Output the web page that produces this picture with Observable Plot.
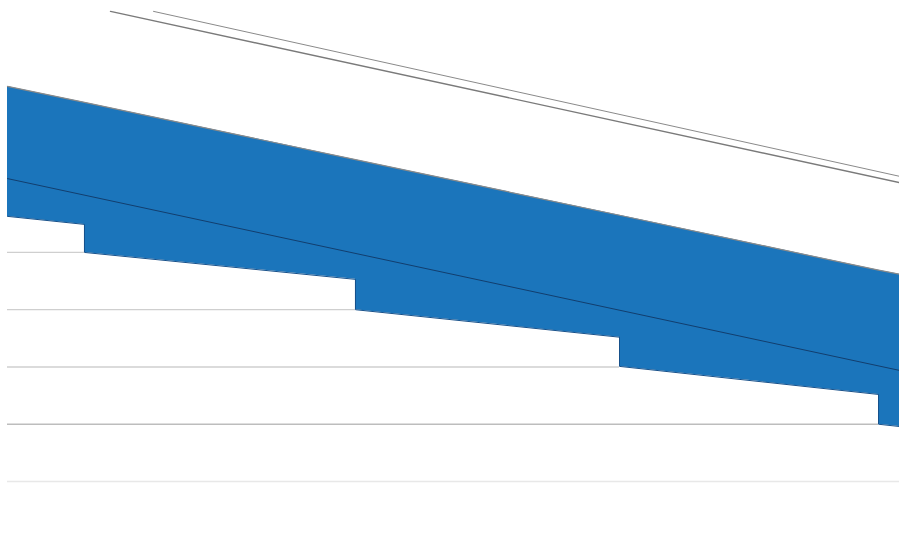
<!DOCTYPE html>
<html>
<head>
<meta charset="utf-8">
<script src="https://cdn.jsdelivr.net/npm/d3@7"></script>
<script src="https://cdn.jsdelivr.net/npm/@observablehq/plot@0.6"></script>
<style>
  html, body { margin: 0; padding: 0; background: #fff; overflow: hidden; }
  #chart svg { display: block; }
</style>
</head>
<body>
<div id="chart"></div>
<script>
// Band: x positions (with repeated x at the steps), lower step edge and upper edge
const bandX     = [0,     8.63,  8.63,  39.01, 39.01, 68.61, 68.61, 97.65, 97.65, 100];
const bandLow   = [4.63,  4.49,  4.00,  3.53,  3.00,  2.52,  2.01,  1.52,  1.00,  0.96];
const bandHigh  = [6.90,  6.62,  6.62,  5.62,  5.62,  4.65,  4.65,  3.69,  3.69,  3.62];

// Dark line inside the band
const midX = [0, 100];
const midY = [5.29, 1.94];

// Two thin gray lines near the top
const topAX = [11.55, 100];
const topAY = [8.21, 5.22];
const topBX = [16.37, 100];
const topBY = [8.21, 5.33];

// Gridlines: value and where each one ends (they stop at the band's steps)
const gridY   = [4, 3, 2, 1, 0];
const gridEnd = [8.63, 39.01, 68.61, 97.65, 100];
const gridColor = ["#cfcfcf", "#cfcfcf", "#cfcfcf", "#bdbdbd", "#e8e8e8"];

const band = bandX.map((x, i) => ({x, lo: bandLow[i], hi: bandHigh[i]}));
const mid = midX.map((x, i) => ({x, y: midY[i]}));
const topA = topAX.map((x, i) => ({x, y: topAY[i]}));
const topB = topBX.map((x, i) => ({x, y: topBY[i]}));
const grid = gridY.map((y, i) => ({y, x2: gridEnd[i], c: gridColor[i]}));

const chart = Plot.plot({
  width: 899,
  height: 535,
  marginLeft: 7,
  marginRight: 0,
  marginTop: 0,
  marginBottom: 54,
  x: {domain: [0, 100], axis: null},
  y: {domain: [0, 8.4], axis: null},
  marks: [
    Plot.ruleY(grid, {y: "y", x1: 0, x2: "x2", stroke: "c", strokeWidth: 1.3}),
    Plot.areaY(band, {x: "x", y1: "lo", y2: "hi", fill: "#1b75bb", curve: "linear"}),
    Plot.line(band, {x: "x", y: "lo", stroke: "#16508a", strokeWidth: 1, curve: "linear"}),
    Plot.line(band.filter((d, i) => i === 0 || bandX[i] !== bandX[i - 1]), {x: "x", y: "hi", stroke: "#8a8a8a", strokeWidth: 1.2}),
    Plot.line(mid, {x: "x", y: "y", stroke: "#123e6e", strokeWidth: 1}),
    Plot.line(topA, {x: "x", y: "y", stroke: "#7a7a7a", strokeWidth: 1.4}),
    Plot.line(topB, {x: "x", y: "y", stroke: "#8a8a8a", strokeWidth: 1})
  ]
});
document.getElementById("chart").append(chart);
</script>
</body>
</html>
